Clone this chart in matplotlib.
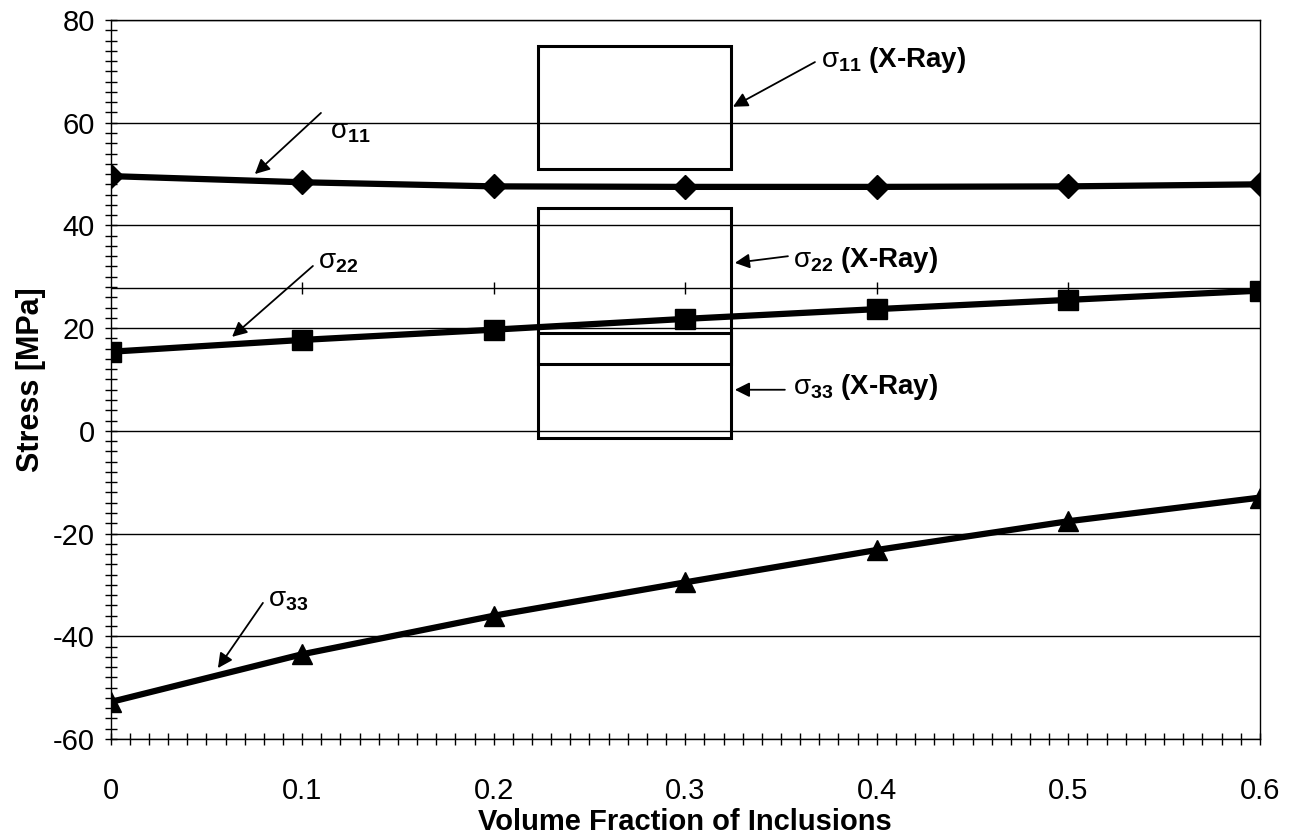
import matplotlib.pyplot as plt
from matplotlib.patches import Rectangle
from matplotlib.ticker import MultipleLocator

plt.rcParams['font.family'] = ['Liberation Sans', 'DejaVu Sans']
plt.rcParams['mathtext.fontset'] = 'custom'
plt.rcParams['mathtext.rm'] = 'Liberation Sans'
plt.rcParams['mathtext.bf'] = 'Liberation Sans:bold'
plt.rcParams['mathtext.it'] = 'Liberation Sans:italic'
plt.rcParams['axes.unicode_minus'] = False

# volume fraction and computed stresses
vf = [0.0, 0.1, 0.2, 0.3, 0.4, 0.5, 0.6]
s11 = [49.6, 48.4, 47.6, 47.5, 47.5, 47.6, 48.0]
s22 = [15.4, 17.7, 19.7, 21.8, 23.7, 25.5, 27.3]
s33 = [-52.8, -43.5, -36.0, -29.5, -23.2, -17.6, -13.0]

# x-ray measurement ranges (boxes)
xray_vf = [0.2231, 0.3240]
xray11 = [50.9, 75.0]
xray22 = [13.1, 43.4]
xray33 = [-1.4, 19.0]
ref_line = 27.9

fig = plt.figure(figsize=(12.91, 8.39), dpi=100)
ax = fig.add_axes([0.0857, 0.1192, 0.8902, 0.8570])

ax.set_xlim(0, 0.6)
ax.set_ylim(-60, 80)
ax.set_xticks(vf)
ax.set_xticklabels(['0', '0.1', '0.2', '0.3', '0.4', '0.5', '0.6'])
ax.set_yticks(range(-60, 81, 20))
ax.xaxis.set_minor_locator(MultipleLocator(0.01))
ax.yaxis.set_minor_locator(MultipleLocator(2))
ax.yaxis.grid(True, color='black', lw=1)
ax.set_axisbelow(True)
ax.tick_params(which='both', direction='inout', length=9, width=1, colors='black')
ax.tick_params(axis='y', labelsize=21, pad=7)
ax.tick_params(axis='x', labelsize=21, pad=23)
for sp in ax.spines.values():
    sp.set_linewidth(1)

# extra reference line with ticks
ax.axhline(ref_line, color='black', lw=1, zorder=2)
ax.plot(vf[1:-1], [ref_line] * 5, '|', color='black', ms=8, mew=1, zorder=2)

# x-ray boxes
for lo, hi in [xray11, xray22, xray33]:
    ax.add_patch(Rectangle((xray_vf[0], lo), xray_vf[1] - xray_vf[0], hi - lo,
                           fill=False, ec='black', lw=2.2, zorder=3))

ax.plot(vf, s11, '-D', color='black', lw=4.5, ms=12.5, zorder=5)
ax.plot(vf, s22, '-s', color='black', lw=4.5, ms=14, zorder=5)
ax.plot(vf, s33, '-^', color='black', lw=4.5, ms=14.5, zorder=5)

ax.set_xlabel('Volume Fraction of Inclusions', fontsize=21, fontweight='bold')
ax.set_ylabel('Stress [MPa]', fontsize=22, fontweight='bold')
ax.xaxis.set_label_coords(0.5, -0.116)
ax.yaxis.set_label_coords(-0.069, 0.5)
ax.xaxis.label.set_va('center')
ax.yaxis.label.set_va('center')

arrow = dict(arrowstyle='-|>', color='black', lw=1.3, mutation_scale=22,
             shrinkA=0, shrinkB=0)

# (text, text pos, arrow start, arrow head)
notes = [
    (r'$\mathrm{\sigma}_{\mathbf{11}}$', (0.1146, 58.2), (0.1098, 61.9), (0.0753, 50.0)),
    (r'$\mathrm{\sigma}_{\mathbf{22}}$', (0.1082, 32.9), (0.1056, 32.1), (0.0634, 18.3)),
    (r'$\mathrm{\sigma}_{\mathbf{33}}$', (0.0822, -32.9), (0.0795, -33.5), (0.0560, -46.2)),
    (r'$\mathrm{\sigma}_{\mathbf{11}}$ (X-Ray)', (0.3708, 72.2), (0.3677, 71.8), (0.3249, 63.1)),
    (r'$\mathrm{\sigma}_{\mathbf{22}}$ (X-Ray)', (0.3562, 33.3), (0.3536, 34.0), (0.3259, 32.7)),
    (r'$\mathrm{\sigma}_{\mathbf{33}}$ (X-Ray)', (0.3562, 8.6), (0.3520, 8.0), (0.3259, 8.0)),
]
for txt, tpos, start, head in notes:
    ax.annotate('', xy=head, xytext=start, arrowprops=arrow, zorder=6)
    ax.text(tpos[0], tpos[1], txt, fontsize=20, fontweight='bold',
            ha='left', va='center', zorder=6)

fig.savefig('out.png', dpi=100, facecolor='white')
